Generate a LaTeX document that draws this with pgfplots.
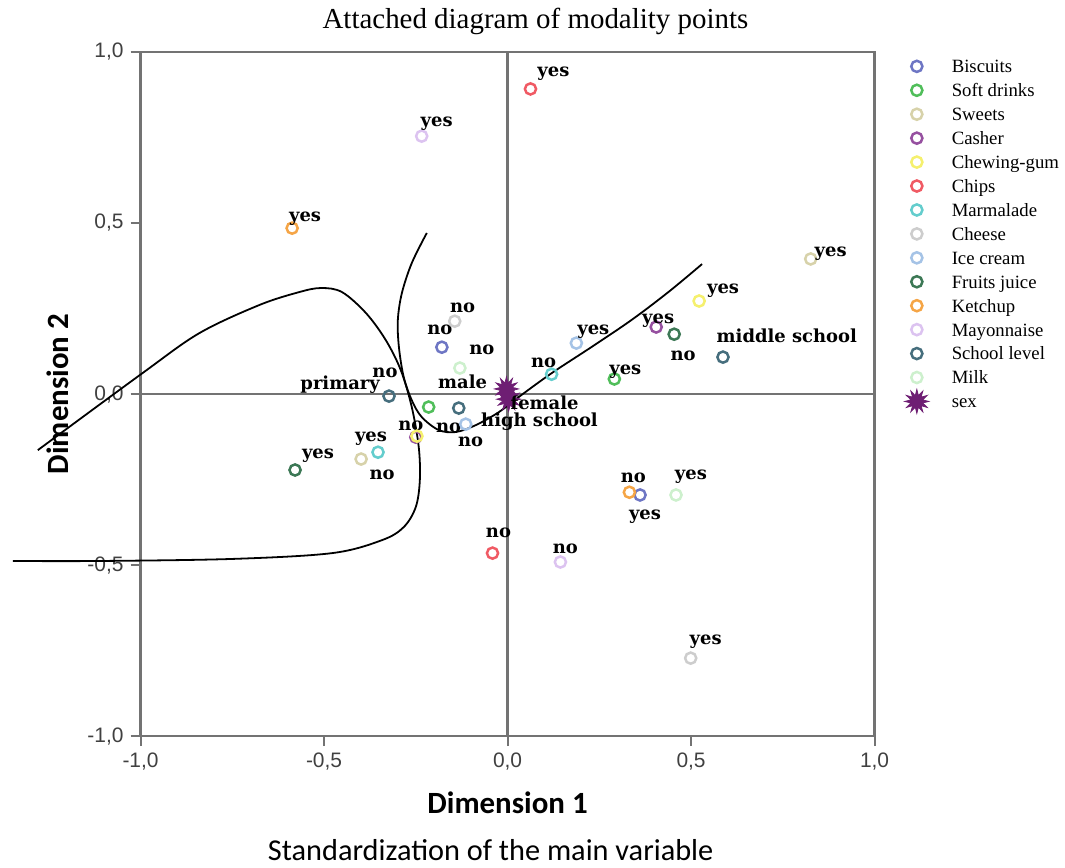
\documentclass[border=0pt]{standalone}
\usepackage{pgfplots}
\pgfplotsset{compat=1.18}
\usepackage{fontspec}
\setmainfont{Liberation Serif}
\newfontfamily\lblfont{DejaVu Serif}
\newfontfamily\sansf{Liberation Sans}
\newfontfamily\carl{Carlito}

\definecolor{cbisc}{RGB}{110,118,196}
\definecolor{csoft}{RGB}{80,190,90}
\definecolor{cswee}{RGB}{215,210,170}
\definecolor{ccash}{RGB}{150,80,160}
\definecolor{cchew}{RGB}{245,240,110}
\definecolor{cchip}{RGB}{240,90,100}
\definecolor{cmarm}{RGB}{100,205,205}
\definecolor{cchee}{RGB}{205,205,205}
\definecolor{cice}{RGB}{165,195,230}
\definecolor{cfrui}{RGB}{60,120,85}
\definecolor{cketc}{RGB}{245,165,70}
\definecolor{cmayo}{RGB}{220,195,240}
\definecolor{cscho}{RGB}{70,110,125}
\definecolor{cmilk}{RGB}{205,240,205}
\definecolor{csex}{RGB}{110,30,115}

\pgfdeclareplotmark{burst}{%
 \pgfpathmoveto{\pgfpointpolar{0}{\pgfplotmarksize}}%
 \pgfpathlineto{\pgfpointpolar{15}{0.5\pgfplotmarksize}}%
 \pgfpathlineto{\pgfpointpolar{30}{\pgfplotmarksize}}%
 \pgfpathlineto{\pgfpointpolar{45}{0.5\pgfplotmarksize}}%
 \pgfpathlineto{\pgfpointpolar{60}{\pgfplotmarksize}}%
 \pgfpathlineto{\pgfpointpolar{75}{0.5\pgfplotmarksize}}%
 \pgfpathlineto{\pgfpointpolar{90}{\pgfplotmarksize}}%
 \pgfpathlineto{\pgfpointpolar{105}{0.5\pgfplotmarksize}}%
 \pgfpathlineto{\pgfpointpolar{120}{\pgfplotmarksize}}%
 \pgfpathlineto{\pgfpointpolar{135}{0.5\pgfplotmarksize}}%
 \pgfpathlineto{\pgfpointpolar{150}{\pgfplotmarksize}}%
 \pgfpathlineto{\pgfpointpolar{165}{0.5\pgfplotmarksize}}%
 \pgfpathlineto{\pgfpointpolar{180}{\pgfplotmarksize}}%
 \pgfpathlineto{\pgfpointpolar{195}{0.5\pgfplotmarksize}}%
 \pgfpathlineto{\pgfpointpolar{210}{\pgfplotmarksize}}%
 \pgfpathlineto{\pgfpointpolar{225}{0.5\pgfplotmarksize}}%
 \pgfpathlineto{\pgfpointpolar{240}{\pgfplotmarksize}}%
 \pgfpathlineto{\pgfpointpolar{255}{0.5\pgfplotmarksize}}%
 \pgfpathlineto{\pgfpointpolar{270}{\pgfplotmarksize}}%
 \pgfpathlineto{\pgfpointpolar{285}{0.5\pgfplotmarksize}}%
 \pgfpathlineto{\pgfpointpolar{300}{\pgfplotmarksize}}%
 \pgfpathlineto{\pgfpointpolar{315}{0.5\pgfplotmarksize}}%
 \pgfpathlineto{\pgfpointpolar{330}{\pgfplotmarksize}}%
 \pgfpathlineto{\pgfpointpolar{345}{0.5\pgfplotmarksize}}%
 \pgfpathclose
 \pgfusepathqfillstroke}

\pgfkeys{/pgfplots/table/tab/.style={col sep=comma, row sep=\\, x=x, y=y}}
\pgfplotsset{
 pts/.style={only marks, mark=o, mark size=2.8pt, line width=1.25pt, color=#1,
   mark options={solid},
   nodes near coords={\plab},
   visualization depends on={value \thisrow{lab}\as\plab},
   visualization depends on={\thisrow{dx}\as\pdx},
   visualization depends on={\thisrow{dy}\as\pdy},
   every node near coord/.append style={anchor=center, xshift=\pdx pt, yshift=\pdy pt,
     text=black, inner sep=0pt, font=\lblfont\bfseries\fontsize{9}{10}\selectfont}}
}

\begin{document}
\begin{tikzpicture}
\begin{axis}[
  scale only axis, width=368pt, height=343pt,
  xmin=-1, xmax=1, ymin=-1, ymax=1,
  clip=false,
  xtick={-1,-0.5,0,0.5,1}, ytick={-1,-0.5,0,0.5,1},
  tick pos=left, tick align=outside, major tick length=5pt,
  axis line style={draw=black!55, line width=1.3pt},
  tick style={draw=black!55, line width=1pt},
  /pgf/number format/.cd, use comma, fixed, fixed zerofill, precision=1, assume math mode=true,
  /pgfplots/.cd,
  ticklabel style={font=\sansf\fontsize{10.5}{12}\selectfont, text=black!75},
  xlabel={Dimension 1}, ylabel={Dimension 2},
  every axis x label/.style={at={(axis description cs:0.5,0)}, anchor=center, yshift=-33.5pt,
     font=\carl\bfseries\fontsize{15.5}{18}\selectfont},
  every axis y label/.style={at={(axis description cs:-0.1128,0.5)}, anchor=center, rotate=90,
     font=\carl\bfseries\fontsize{15.5}{18}\selectfont},
  legend cell align=left,
  legend style={at={(axis description cs:1,1)}, anchor=north west, xshift=12pt, yshift=1pt,
     draw=none, fill=none, font=\fontsize{9.4}{11}\selectfont, row sep=0pt,
     nodes={inner sep=0pt, text height=9.2pt, text depth=2.8pt},
     /tikz/every odd column/.append style={column sep=11.5pt}},
]
\addplot[forget plot, draw=black!55, line width=1.3pt] coordinates {(-1,0) (1,0)};
\addplot[forget plot, draw=black!55, line width=1.3pt] coordinates {(0,-1) (0,1)};

\addplot[pts=cbisc] table[tab] {x,y,lab,dx,dy\\
-0.179,0.137,no,-1,8.5\\
0.361,-0.295,yes,2.5,-11\\};
\addlegendentry{Biscuits}
\addplot[pts=csoft] table[tab] {x,y,lab,dx,dy\\
0.291,0.044,yes,5.5,3.5\\
-0.215,-0.038,no,10,-10.5\\};
\addlegendentry{Soft drinks}
\addplot[pts=cswee] table[tab] {x,y,lab,dx,dy\\
0.826,0.395,yes,10,2.5\\
-0.399,-0.190,no,10.5,-8\\};
\addlegendentry{Sweets}
\addplot[pts=ccash] table[tab] {x,y,lab,dx,dy\\
0.405,0.196,yes,1,3\\
-0.250,-0.126,no,-2.5,5.5\\};
\addlegendentry{Casher}
\addplot[pts=cchew] table[tab] {x,y,lab,dx,dy\\
0.522,0.272,yes,12,5\\
-0.247,-0.123,no,-16,31.5\\};
\addlegendentry{Chewing-gum}
\addplot[pts=cchip] table[tab] {x,y,lab,dx,dy\\
0.0625,0.892,yes,11.5,7.5\\
-0.041,-0.465,no,3,10\\};
\addlegendentry{Chips}
\addplot[pts=cmarm] table[tab] {x,y,lab,dx,dy\\
0.120,0.058,no,-4,5.5\\
-0.353,-0.170,yes,-3.5,7\\};
\addlegendentry{Marmalade}
\addplot[pts=cchee] table[tab] {x,y,lab,dx,dy\\
-0.144,0.213,no,4,6.5\\
0.499,-0.772,yes,7.5,8\\};
\addlegendentry{Cheese}
\addplot[pts=cice] table[tab] {x,y,lab,dx,dy\\
0.1875,0.149,yes,8.5,5.5\\
-0.114,-0.088,no,2.5,-9\\};
\addlegendentry{Ice cream}
\addplot[pts=cfrui] table[tab] {x,y,lab,dx,dy\\
-0.579,-0.222,yes,11.5,7\\
0.454,0.175,no,4.5,-11\\};
\addlegendentry{Fruits juice}
\addplot[pts=cketc] table[tab] {x,y,lab,dx,dy\\
-0.587,0.485,yes,6.5,4.5\\
0.332,-0.287,no,2,7\\};
\addlegendentry{Ketchup}
\addplot[pts=cmayo] table[tab] {x,y,lab,dx,dy\\
-0.234,0.754,yes,7.5,6\\
0.144,-0.491,no,2.5,6.5\\};
\addlegendentry{Mayonnaise}
\addplot[pts=cscho] table[tab] {x,y,lab,dx,dy\\
-0.323,-0.006,primary,-24.5,5.5\\
0.587,0.108,middle school,32,10.5\\
-0.133,-0.041,high school,40.5,-7\\};
\addlegendentry{School level}
\addplot[pts=cmilk] table[tab] {x,y,lab,dx,dy\\
-0.130,0.076,no,11,9\\
0.459,-0.295,yes,7.5,9\\};
\addlegendentry{Milk}
\addplot[pts=csex, mark=burst, mark size=6pt, line width=0.4pt, mark options={fill=csex}] table[tab] {x,y,lab,dx,dy\\
-0.003,0.015,male,-22,3.5\\
0.003,-0.015,female,18,-2\\};
\addlegendentry{sex}

\addplot[forget plot, smooth, tension=0.55, black, line width=0.9pt] coordinates {
(-1.280,-0.164) (-0.995,0.061) (-0.840,0.178) (-0.677,0.260) (-0.568,0.298) (-0.508,0.310)
(-0.451,0.298) (-0.386,0.237) (-0.332,0.158) (-0.291,0.070) (-0.261,-0.038) (-0.242,-0.155)
(-0.239,-0.251) (-0.250,-0.330) (-0.283,-0.389) (-0.342,-0.427) (-0.478,-0.465) (-0.750,-0.482)
(-1.111,-0.488) (-1.348,-0.488)};
\addplot[forget plot, smooth, tension=0.55, black, line width=0.9pt] coordinates {
(-0.220,0.471) (-0.261,0.383) (-0.288,0.295) (-0.299,0.216) (-0.296,0.137) (-0.283,0.050)
(-0.261,-0.018) (-0.234,-0.067) (-0.188,-0.105) (-0.141,-0.111) (-0.087,-0.091) (-0.024,-0.053)
(0.030,-0.009) (0.120,0.061) (0.228,0.137) (0.337,0.216) (0.438,0.298) (0.530,0.380)};

\node[font=\fontsize{14.5}{17}\selectfont] at (axis cs:0.076,1.088) {Attached diagram of modality points};
\node[font=\carl\fontsize{15.2}{18}\selectfont] at (axis cs:-0.046,-1.333) {Standardization of the main variable};
\path (axis cs:-1.383,1.152) rectangle (axis cs:1.511,-1.365);
\end{axis}
\end{tikzpicture}
\end{document}
